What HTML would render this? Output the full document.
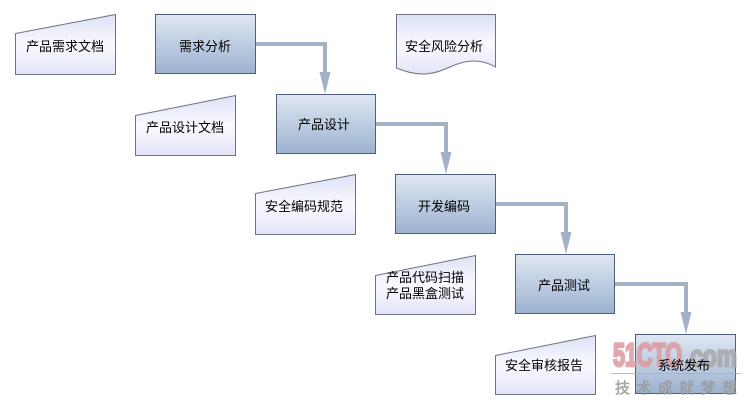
<!DOCTYPE html>
<html><head><meta charset="utf-8"><style>
html,body{margin:0;padding:0;background:#fff;}
svg{display:block;}
text{font-family:"Liberation Sans","Noto Sans CJK SC",sans-serif;font-size:13px;fill:#000;text-anchor:middle;}
</style></head><body>
<svg width="751" height="408" viewBox="0 0 751 408" xmlns="http://www.w3.org/2000/svg">
<defs>
<linearGradient id="bx" x1="0" y1="0" x2="0" y2="1">
<stop offset="0" stop-color="#dfe7f2"/><stop offset="1" stop-color="#9cb2d1"/>
</linearGradient>
<linearGradient id="dc" x1="0" y1="0" x2="0" y2="1">
<stop offset="0" stop-color="#dde1f6"/><stop offset="0.5" stop-color="#f9f9fe"/><stop offset="1" stop-color="#e3e5f8"/>
</linearGradient>
</defs>
<g stroke="#4f5f78" stroke-width="1" fill="url(#bx)">
<rect x="155.5" y="14.5" width="100" height="59"/>
<rect x="276.5" y="94.5" width="99" height="59"/>
<rect x="395.5" y="174.5" width="100" height="59"/>
<rect x="515.5" y="254.5" width="99" height="59"/>
<rect x="635.5" y="334.5" width="100" height="59"/>
</g>
<g stroke="#6e7384" stroke-width="1" fill="url(#dc)">
<path d="M15.5 33.5 L115.5 14.5 L115.5 74.5 L15.5 74.5 Z"/>
<path d="M135.5 115.5 L235.5 95.5 L235.5 155.5 L135.5 155.5 Z"/>
<path d="M255.5 193.5 L355.5 174.5 L355.5 234.5 L255.5 234.5 Z"/>
<path d="M375.5 275.5 L475.5 255.5 L475.5 314.5 L375.5 314.5 Z"/>
<path d="M495.5 355.5 L595.5 335.5 L595.5 394.5 L495.5 394.5 Z"/>
<path d="M396.5 14.5 L495.5 14.5 L495.5 67 C480 58, 465 60, 450 67 C435 74, 420 78, 396.5 68 Z"/>
</g>
<g stroke="#a3b1c6" stroke-width="4" fill="none">
<path d="M256 44 L325 44 L325 74"/>
<path d="M376 124 L446 124 L446 154"/>
<path d="M496 204 L566 204 L566 234"/>
<path d="M615 284 L686 284 L686 314"/>
</g>
<g fill="#a3b1c6">
<path d="M319.5 72 L330.5 72 L325 94 Z"/>
<path d="M440.5 152 L451.5 152 L446 174 Z"/>
<path d="M560.5 232 L571.5 232 L566 254 Z"/>
<path d="M680.5 312 L691.5 312 L686 334 Z"/>
</g>
<g opacity="0.85">
<text x="613" y="366" textLength="69" lengthAdjust="spacingAndGlyphs" style="text-anchor:start;font-size:32px;font-weight:bold;fill:#dc9aa0;stroke:#dc9aa0;stroke-width:2.5px;font-family:'Liberation Sans',sans-serif">51CTO</text>
<text x="684" y="366" textLength="53" lengthAdjust="spacingAndGlyphs" style="text-anchor:start;font-size:30px;font-weight:bold;fill:#a8a8a8;stroke:#a8a8a8;stroke-width:2.5px;font-family:'Liberation Sans',sans-serif">.com</text>
<rect x="611" y="373" width="130" height="1" fill="#b0b0b0"/>
<text x="615" y="393" textLength="122" lengthAdjust="spacing" style="text-anchor:start;font-size:15px;fill:#9a9a9a;stroke:#9a9a9a;stroke-width:0.6px">技术成就梦想</text>
</g>
<text x="65" y="51">产品需求文档</text>
<text x="205" y="51">需求分析</text>
<text x="185" y="132">产品设计文档</text>
<text x="324" y="129">产品设计</text>
<text x="444" y="51">安全风险分析</text>
<text x="304" y="211">安全编码规范</text>
<text x="444" y="211">开发编码</text>
<text x="425" y="282">产品代码扫描</text>
<text x="425" y="298">产品黑盒测试</text>
<text x="564" y="290">产品测试</text>
<text x="684" y="370">系统发布</text>
<text x="544" y="370">安全审核报告</text>
</svg>
</body></html>
